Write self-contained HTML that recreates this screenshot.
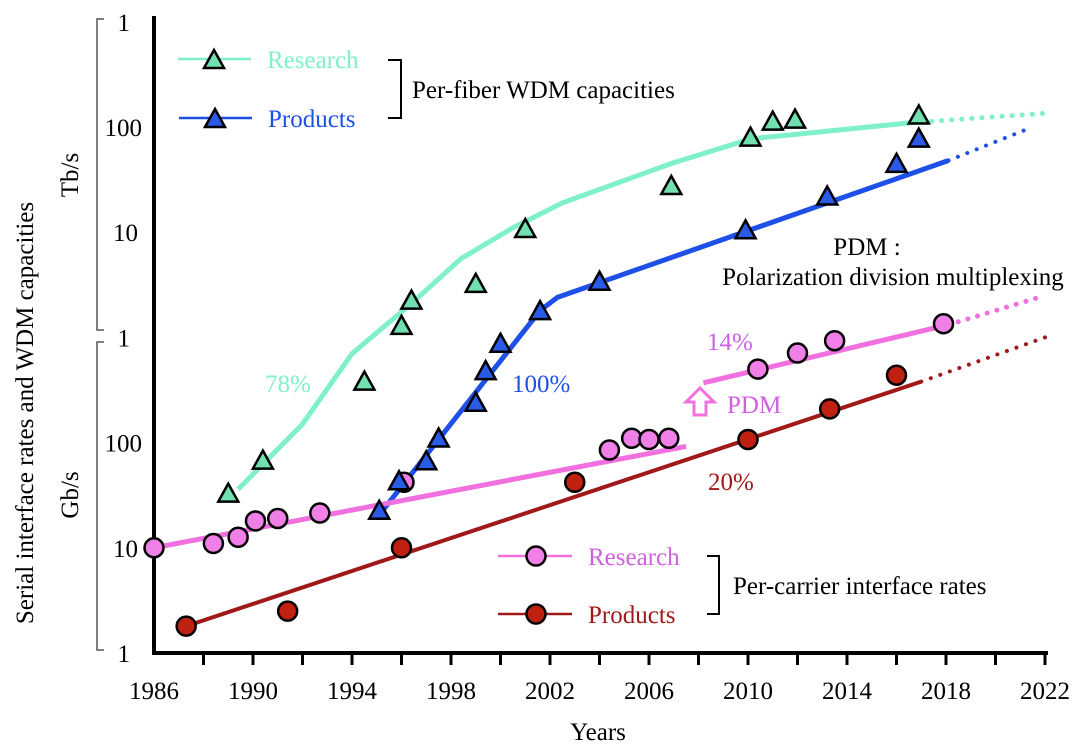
<!DOCTYPE html>
<html><head><meta charset="utf-8"><style>
body{margin:0;background:#fff}
svg{display:block;font-family:"Liberation Serif",serif}
</style></head><body>
<svg id="c" width="1080" height="747" viewBox="0 0 1080 747"></svg>
<script>
// ---- data (years, values in Gb/s) ----
const resWdmYears=[1989.0,1990.4,1994.5,1996.0,1996.4,1999.0,2001.0,2006.9,2010.1,2011.0,2011.9,2016.9];
const resWdmVals=[32,66,372,1260,2190,3160,10500,26900,77600,110000,115000,126000];
const prodWdmYears=[1995.1,1995.9,1997.0,1997.5,1999.0,1999.4,2000.0,2001.6,2004.0,2009.9,2013.2,2016.0,2016.9];
const prodWdmVals=[22,42,65,107,234,468,851,1740,3310,10200,21400,43700,75900];
const resCarYears=[1986.0,1988.4,1989.4,1990.1,1991.0,1992.7,1996.1,2004.4,2005.3,2006.0,2006.8,2010.4,2012.0,2013.5,2017.9];
const resCarVals=[10,11,12.6,18,19,21.4,42,85,110,107,110,500,710,930,1350];
const prodCarYears=[1987.3,1991.4,1996.0,2003.0,2010.0,2013.3,2016.0];
const prodCarVals=[1.8,2.5,10,42,107,209,437];
// trend lines
const resWdmTrendYears=[1989.4,1992.0,1994.0,1996.5,1998.4,2000.5,2002.5,2006.9,2010.1,2016.6];
const resWdmTrendVals=[36,150,700,2200,5600,11000,19000,45000,77000,110000];
const resWdmDotYears=[2016.6,2022];const resWdmDotVals=[110000,135000];
const prodWdmTrendYears=[1995.2,2001.6,2002.3,2018.1];
const prodWdmTrendVals=[22,1800,2400,48000];
const prodWdmDotYears=[2018.1,2021.5];const prodWdmDotVals=[48000,100000];
const resCarTrendYears=[1986.0,2007.5];const resCarTrendVals=[10,92];
const resCar2Years=[2008.2,2018.1];const resCar2Vals=[370,1320];
const resCarDotYears=[2018.1,2022];const resCarDotVals=[1320,2500];
const prodCarTrendYears=[1987.3,2017.0];const prodCarTrendVals=[1.8,380];
const prodCarDotYears=[2017.0,2022];const prodCarDotVals=[380,1000];
const xTicks=[1986,1990,1994,1998,2002,2006,2010,2014,2018,2022];

const X0=154,PX=24.75,Y0=653,PD=105.2,FS=25;
const x=y=>X0+(y-1986)*PX;
const yv=v=>Y0-PD*Math.log10(v);
const svg=document.getElementById('c');const NS='http://www.w3.org/2000/svg';
function mk(t,a,p){const e=document.createElementNS(NS,t);for(const k in a)e.setAttribute(k,a[k]);(p||svg).appendChild(e);return e;}
function txt(s,a){const e=mk('text',Object.assign({'font-size':FS},a));e.textContent=s;return e;}
function line(ys,vs,color,w,dash,name){
  const e=mk('polyline',{points:ys.map((t,i)=>x(t)+','+yv(vs[i])).join(' '),fill:'none',stroke:color,'stroke-width':w,'stroke-linecap':dash?'round':'butt','stroke-linejoin':'round'});
  if(dash)e.setAttribute('stroke-dasharray','0.1 '+dash);
  
  
}
function tri(cx,cy,fill,name){
  const e=mk('polygon',{points:`${cx},${cy-11} ${cx-10},${cy+7} ${cx+10},${cy+7}`,fill:fill,stroke:'#000','stroke-width':2.5,'stroke-linejoin':'miter'});
  
  
}
function circ(cx,cy,fill,name){
  const e=mk('circle',{cx:cx,cy:cy,r:9.5,fill:fill,stroke:'#000','stroke-width':2.5});
  
  
}
// axes
mk('line',{x1:X0,y1:16,x2:X0,y2:655,stroke:'#000','stroke-width':4,});
mk('line',{x1:X0-2,y1:653,x2:1048,y2:653,stroke:'#000','stroke-width':4,});
for(let yr=1988;yr<=2022;yr+=2){mk('line',{x1:x(yr),y1:653,x2:x(yr),y2:665,stroke:'#000','stroke-width':3,});}
xTicks.forEach(t=>{const e=txt(t,{x:x(t),y:699,'text-anchor':'middle'});});
txt('Years',{x:598,y:740,'text-anchor':'middle',});
// y labels
[['1',1e6],['100',1e5],['10',1e4],['1',1e3],['100',100],['10',10],['1',1]].forEach(([s,v])=>{const e=txt(s,{x:s==='1'?130:s==='10'?138:142,y:yv(v)+9,'text-anchor':'end'});});
mk('path',{d:'M104,19 H97 V330 H104 M104,342 H97 V650 H104',fill:'none',stroke:'#555','stroke-width':1.5,});
txt('Tb/s',{x:0,y:0,'text-anchor':'middle',transform:'translate(78,175) rotate(-90)',});
txt('Gb/s',{x:0,y:0,'text-anchor':'middle',transform:'translate(78,495) rotate(-90)',});
txt('Serial interface rates and WDM capacities',{x:0,y:0,'text-anchor':'middle',transform:'translate(33,413) rotate(-90)',});
// colors
const G='#80f0c8',GF='#70e0b0',B='#1e50e8',BF='#2a5ae8',P='#f070e0',PF='#f080e8',R='#a01818',RF='#c02010';
// trend lines
line(resWdmTrendYears,resWdmTrendVals,G,5,0,'research-wdm-trend');
line(resWdmDotYears,resWdmDotVals,G,5,10,'research-wdm-projection');
line(prodWdmTrendYears,prodWdmTrendVals,B,5,0,'products-wdm-trend');
line(prodWdmDotYears,prodWdmDotVals,B,4,10,'products-wdm-projection');
line(resCarTrendYears,resCarTrendVals,P,5,0,'research-carrier-trend');
line(resCar2Years,resCar2Vals,P,5,0,'research-carrier-pdm-trend');
line(resCarDotYears,resCarDotVals,P,5,10,'research-carrier-projection');
line(prodCarTrendYears,prodCarTrendVals,R,4,0,'products-carrier-trend');
line(prodCarDotYears,prodCarDotVals,R,4,10,'products-carrier-projection');
// markers
resCarYears.forEach((t,i)=>circ(x(t),yv(resCarVals[i]),PF,'research-carrier-point'));
prodCarYears.forEach((t,i)=>circ(x(t),yv(prodCarVals[i]),RF,'products-carrier-point'));
resWdmYears.forEach((t,i)=>tri(x(t),yv(resWdmVals[i]),GF,'research-wdm-point'));
prodWdmYears.forEach((t,i)=>tri(x(t),yv(prodWdmVals[i]),BF,'products-wdm-point'));
// PDM arrow
mk('polygon',{points:'700,388 714,402 706,402 706,415 694,415 694,402 686,402',fill:'#fff',stroke:P,'stroke-width':3,});
// annotations
txt('78%',{x:265,y:392,fill:G,});
txt('100%',{x:512,y:392,fill:B,});
txt('14%',{x:707,y:350,fill:'#c860e8',});
txt('PDM',{x:727,y:413,fill:'#d060e0',});
txt('20%',{x:708,y:490,fill:R,});
txt('PDM :',{x:867,y:255,'text-anchor':'middle',});
txt('Polarization division multiplexing',{x:893,y:285,'text-anchor':'middle',});
// legends
mk('line',{x1:178,y1:59,x2:251,y2:59,stroke:G,'stroke-width':2.5,});
tri(214,61,GF,'legend-research-wdm-marker');
txt('Research',{x:267,y:68,fill:G,});
mk('line',{x1:179,y1:118,x2:252,y2:118,stroke:B,'stroke-width':2.5,});
tri(215,120,BF,'legend-products-wdm-marker');
txt('Products',{x:268,y:127,fill:B,});
mk('path',{d:'M388,60 H401 V118 H388',fill:'none',stroke:'#000','stroke-width':2,});
txt('Per-fiber WDM capacities',{x:412,y:98,});
mk('line',{x1:498,y1:556,x2:572,y2:556,stroke:P,'stroke-width':2.5,});
circ(536,556,PF,'legend-research-carrier-marker');
txt('Research',{x:588,y:565,fill:'#d060e0',});
mk('line',{x1:498,y1:614,x2:572,y2:614,stroke:R,'stroke-width':2.5,});
circ(536,614,RF,'legend-products-carrier-marker');
txt('Products',{x:588,y:623,fill:R,});
mk('path',{d:'M707,556 H719 V614 H707',fill:'none',stroke:'#000','stroke-width':2,});
txt('Per-carrier interface rates',{x:733,y:594,});
</script>
</body></html>
